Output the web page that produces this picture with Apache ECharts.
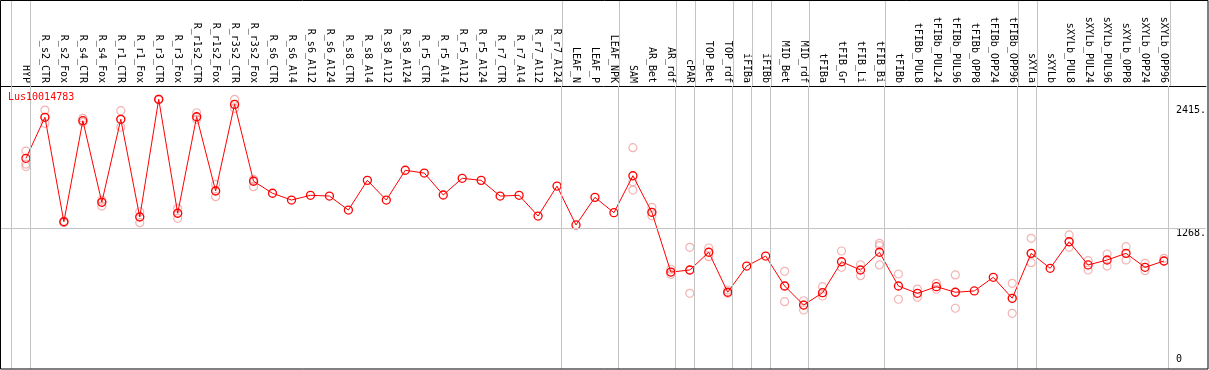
<!DOCTYPE html>
<html>
<head>
<meta charset="utf-8">
<script src="https://cdn.jsdelivr.net/npm/echarts@6/dist/echarts.min.js"></script>
<style>
  html, body { margin: 0; padding: 0; background: #fff; }
  #chart { width: 1209px; height: 370px; }
</style>
</head>
<body>
<div id="chart"></div>
<script>
// sample names, one per column
const categories = [
  'HYP', 'R_s2_CTR', 'R_s2_Fox', 'R_s4_CTR', 'R_s4_Fox', 'R_r1_CTR', 'R_r1_Fox',
  'R_r3_CTR', 'R_r3_Fox', 'R_r1s2_CTR', 'R_r1s2_Fox', 'R_r3s2_CTR', 'R_r3s2_Fox',
  'R_s6_CTR', 'R_s6_Al4', 'R_s6_Al12', 'R_s6_Al24', 'R_s8_CTR', 'R_s8_Al4', 'R_s8_Al12',
  'R_s8_Al24', 'R_r5_CTR', 'R_r5_Al4', 'R_r5_Al12', 'R_r5_Al24', 'R_r7_CTR', 'R_r7_Al4',
  'R_r7_Al12', 'R_r7_Al24', 'LEAF_N', 'LEAF_P', 'LEAF_NPK', 'SAM', 'AR_Bet', 'AR_rdf',
  'cPAR', 'TOP_Bet', 'TOP_rdf', 'iFIBa', 'iFIBb', 'MID_Bet', 'MID_rdf', 'tFIBa',
  'tFIB_Gr', 'tFIB_Li', 'tFIB_Bi', 'tFIBb', 'tFIBb_PUL8', 'tFIBb_PUL24', 'tFIBb_PUL96',
  'tFIBb_OPP8', 'tFIBb_OPP24', 'tFIBb_OPP96', 'sXYLa', 'sXYLb', 'sXYLb_PUL8',
  'sXYLb_PUL24', 'sXYLb_PUL96', 'sXYLb_OPP8', 'sXYLb_OPP24', 'sXYLb_OPP96'
];

// mean expression per sample
const means = [
  1918, 2300, 1328, 2268, 1509, 2281, 1372, 2467, 1407, 2305, 1614, 2420, 1705,
  1593, 1530, 1574, 1567, 1437, 1713, 1530, 1807, 1781, 1577, 1732, 1713, 1567, 1574,
  1381, 1660, 1298, 1555, 1412, 1756, 1416, 860, 879, 1044, 672, 916, 1009, 730, 553,
  668, 956, 879, 1044, 730, 662, 724, 672, 684, 811, 616, 1034, 895, 1142, 926, 972,
  1034, 904, 963
];

// individual replicates per sample
const replicates = [
  [1986, 1865, 1842], [2367, 2244, 2300], [1335, 1325, 1322], [2290, 2268, 2253],
  [1530, 1474, 1510], [2361, 2281, 2207], [1421, 1319, 1375], [2470, 2465, 2462],
  [1453, 1360, 1407], [2342, 2281, 2300], [1676, 1561, 1617], [2467, 2383, 2420],
  [1723, 1654, 1707], [], [], [], [], [], [], [], [], [], [], [], [], [], [], [], [],
  [], [], [], [2017, 1700, 1623], [1462, 1384, 1416], [886, 839, 860],
  [1090, 662, 879], [1084, 1003], [693, 662], [], [], [867, 584, 730],
  [593, 507, 553], [724, 637, 668], [1056, 904], [928, 826], [1127, 1105, 926],
  [842, 607], [702, 625], [755, 700], [833, 523, 672], [], [], [755, 476, 616],
  [1174, 947, 1034], [], [1205, 1090, 1142], [966, 879], [1028, 916], [1096, 972],
  [941, 873], [988, 963]
];

// last sample index of each group (grey separators)
const groupEnds = [-1, 0, 28, 31, 34, 35, 37, 38, 39, 41, 45, 52, 53, 60];

const yLabels = [1268, 2415];
const geneName = 'Lus10014783';

let chart = echarts.init(document.getElementById('chart'));

const font = 'DejaVu Sans Mono';
const xMin = -25 / 19;
const xMax = xMin + 1207 / 19;

let repData = [];
replicates.forEach((vals, i) => vals.forEach(v => repData.push([i, v])));

let sepLines = groupEnds.map(k => ({ xAxis: k + 0.237 }));
let sepStyle = { color: '#c4c4c4', width: 1, type: 'solid' };

let option = {
  animation: false,
  backgroundColor: '#fff',
  title: {
    text: geneName,
    left: 8,
    top: 92,
    padding: 0,
    textStyle: { color: '#ff0000', fontSize: 10, fontWeight: 'normal', fontFamily: font }
  },
  grid: [
    { left: 1, right: 1, top: 1, height: 85 },   // label strip
    { left: 1, right: 1, top: 86, bottom: 1 }    // plot
  ],
  xAxis: [
    { gridIndex: 0, type: 'value', min: xMin, max: xMax, show: false },
    {
      gridIndex: 1, type: 'value', min: xMin, max: xMax, position: 'top',
      axisLine: { show: true, onZero: false, lineStyle: { color: '#000', width: 1 } },
      axisTick: { show: false },
      splitLine: { show: false },
      axisLabel: {
        customValues: categories.map((c, i) => i),
        formatter: v => categories[Math.round(v)],
        rotate: 90, margin: 3, color: '#000', fontSize: 10, fontFamily: font
      }
    }
  ],
  yAxis: [
    { gridIndex: 0, type: 'value', min: 0, max: 1, show: false },
    {
      gridIndex: 1, type: 'value', min: -42, max: 2591, position: 'right',
      axisLine: { show: false }, axisTick: { show: false }, splitLine: { show: false },
      axisLabel: {
        customValues: yLabels, inside: true, margin: 30, align: 'left',
        verticalAlign: 'top', formatter: v => v + '.',
        color: '#000', fontSize: 10, fontFamily: font
      }
    },
    {
      gridIndex: 1, type: 'value', min: -42, max: 2591, position: 'right',
      axisLine: { show: false }, axisTick: { show: false }, splitLine: { show: false },
      axisLabel: {
        customValues: [0], inside: true, margin: 30, align: 'left',
        verticalAlign: 'bottom', formatter: v => String(v),
        color: '#000', fontSize: 10, fontFamily: font
      }
    }
  ],
  series: [
    {
      // separators through the label strip
      type: 'scatter', xAxisIndex: 0, yAxisIndex: 0, silent: true,
      data: groupEnds.map(k => [k + 0.237, 0.5]), symbolSize: 0,
      markLine: { symbol: 'none', silent: true, label: { show: false }, lineStyle: sepStyle, data: sepLines }
    },
    {
      type: 'scatter', xAxisIndex: 1, yAxisIndex: 1, data: repData, z: 2,
      symbol: 'circle', symbolSize: 8,
      itemStyle: { color: 'rgba(0,0,0,0)', borderColor: '#f0a0a0', borderWidth: 1.2 },
      markLine: {
        symbol: 'none', silent: true, label: { show: false }, lineStyle: sepStyle,
        data: sepLines.concat(yLabels.slice(0, 1).map(v => ({ yAxis: v })))
      }
    },
    {
      name: geneName, type: 'line', xAxisIndex: 1, yAxisIndex: 1, z: 3,
      data: means.map((v, i) => [i, v]),
      symbol: 'circle', symbolSize: 8,
      lineStyle: { color: '#ff0000', width: 1 },
      itemStyle: { color: 'rgba(0,0,0,0)', borderColor: '#ff0000', borderWidth: 1.3 }
    }
  ],
  graphic: [
    {
      type: 'rect', silent: true, z: 100,
      shape: { x: 0.5, y: 0.5, width: 1207.5, height: 368.5 },
      style: { fill: null, stroke: '#000', lineWidth: 1 }
    }
  ]
};
chart.clear();
chart.setOption(option);
</script>
</body>
</html>
